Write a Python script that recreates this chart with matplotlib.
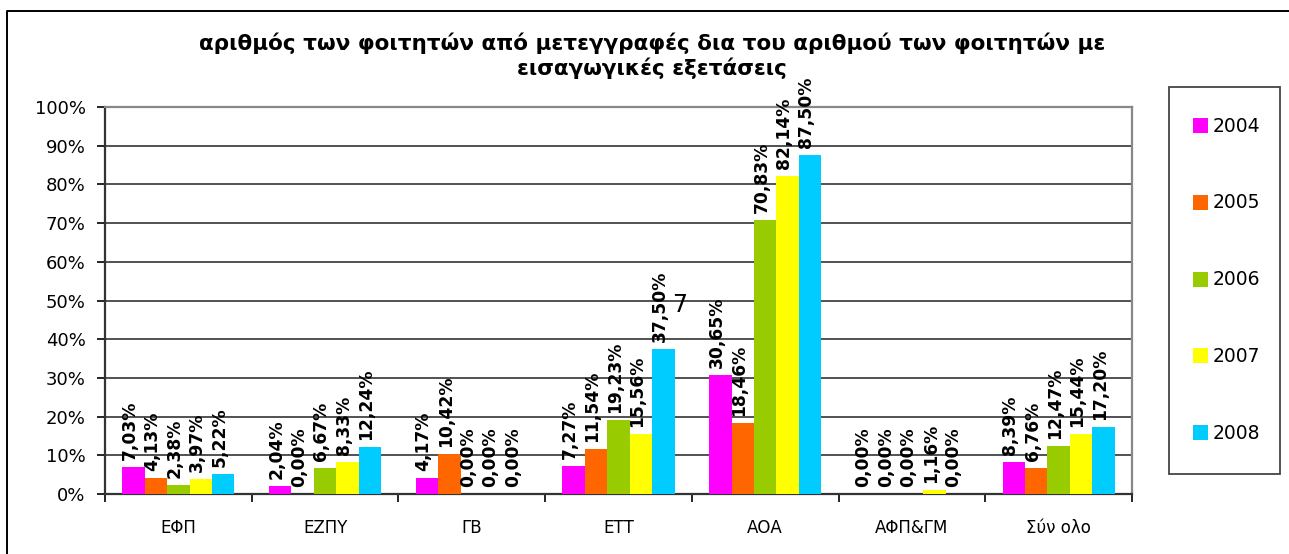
import matplotlib
matplotlib.use("Agg")
import matplotlib.pyplot as plt
import numpy as np
from matplotlib.patches import Rectangle
from matplotlib.lines import Line2D

plt.rcParams['font.family'] = ['DejaVu Sans']

categories = ["ΕΦΠ", "ΕΖΠΥ", "ΓΒ", "ΕΤΤ", "ΑΟΑ", "ΑΦΠ&ΓΜ", "Σύν ολο"]
years = ["2004", "2005", "2006", "2007", "2008"]
v2004 = [7.03, 2.04, 4.17, 7.27, 30.65, 0.00, 8.39]
v2005 = [4.13, 0.00, 10.42, 11.54, 18.46, 0.00, 6.76]
v2006 = [2.38, 6.67, 0.00, 19.23, 70.83, 0.00, 12.47]
v2007 = [3.97, 8.33, 0.00, 15.56, 82.14, 1.16, 15.44]
v2008 = [5.22, 12.24, 0.00, 37.50, 87.50, 0.00, 17.20]
series = [v2004, v2005, v2006, v2007, v2008]
colors = ["#FF00FF", "#FF6600", "#99CC00", "#FFFF00", "#00CCFF"]
yticks = [0, 10, 20, 30, 40, 50, 60, 70, 80, 90, 100]
title = "αριθμός των φοιτητών από μετεγγραφές δια του αριθμού των φοιτητών με\nεισαγωγικές εξετάσεις"

W, H = 1289, 554
fig = plt.figure(figsize=(W / 100, H / 100), dpi=100)

def fx(px):
    return px / W

def fy(py):
    return 1 - py / H

# outer border (left and top visible)
fig.add_artist(Line2D([fx(7), fx(7), 1.0], [0.0, fy(11), fy(11)],
                      transform=fig.transFigure, color="black", linewidth=1.4))

ax = fig.add_axes([fx(105), fy(494), fx(1132) - fx(105), fy(107) - fy(494)])
n = len(categories)
x = np.arange(n)
bw = 0.153
for i, (vals, c) in enumerate(zip(series, colors)):
    pos = x - 2 * bw + i * bw
    ax.bar(pos, vals, width=bw, color=c, edgecolor="none", zorder=3)
    for p, v in zip(pos, vals):
        ax.text(p - 0.025, v + 1.8, ("%.2f%%" % v).replace(".", ","), rotation=90,
                ha="center", va="bottom", fontsize=12.3, fontweight="bold",
                clip_on=False, zorder=5)

ax.text(3.42, 48.8, "7", fontsize=17, ha="center", va="center")

ax.set_xlim(-0.5, n - 0.5)
ax.set_ylim(0, 100)
ax.set_yticks(yticks)
ax.set_yticklabels(["%d%%" % t for t in yticks], fontsize=13)
ax.set_xticks(x)
ax.set_xticklabels(categories, fontsize=12)
ax.tick_params(axis="x", length=0, pad=18)
ax.set_xticks(np.arange(n + 1) - 0.5, minor=True)
ax.tick_params(axis="x", which="minor", length=6, direction="out", width=1.2)
ax.tick_params(axis="y", length=6, direction="out", width=1.2, pad=8)
ax.yaxis.grid(True, color="#222222", linewidth=1.1, zorder=0)
ax.set_axisbelow(True)
for s in ["top", "right"]:
    ax.spines[s].set_color("#888888")
    ax.spines[s].set_linewidth(1.6)
for s in ["left", "bottom"]:
    ax.spines[s].set_color("#333333")
    ax.spines[s].set_linewidth(1.6)

fig.text(fx(652), fy(56), title, ha="center", va="center", fontsize=15.5,
         fontweight="bold", linespacing=1.22)

# legend (manual box)
fig.add_artist(Rectangle((fx(1169), fy(474)), fx(1280) - fx(1169), fy(87) - fy(474),
                         transform=fig.transFigure, fill=False,
                         edgecolor="#444444", linewidth=1.3))
for i, (yr, c) in enumerate(zip(years, colors)):
    yc = 126 + i * 76.8
    fig.add_artist(Rectangle((fx(1193), fy(yc + 7)), fx(15), 15 / H,
                             transform=fig.transFigure, facecolor=c, edgecolor="none"))
    fig.text(fx(1213), fy(yc), yr, ha="left", va="center", fontsize=13.5)

fig.savefig("out.png", dpi=100)
